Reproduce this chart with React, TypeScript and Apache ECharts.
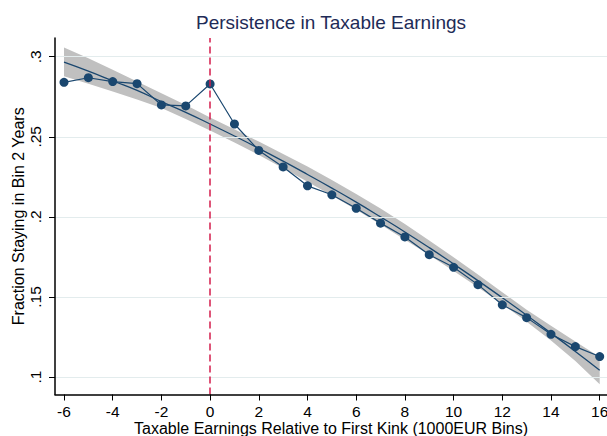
import React, { useEffect, useRef } from "react";
import * as echarts from "echarts";

const xBins = [-6, -5, -4, -3, -2, -1, 0, 1, 2, 3, 4, 5, 6, 7, 8, 9, 10, 11, 12, 13, 14, 15, 16];
const persistence = [
  0.284, 0.2869, 0.2845, 0.2832, 0.2699, 0.2693, 0.283, 0.258, 0.2415, 0.2312, 0.2194, 0.2138,
  0.2054, 0.1961, 0.1875, 0.1764, 0.1685, 0.1577, 0.1451, 0.1371, 0.1267, 0.119, 0.1128,
];
const fitLine = [
  0.2966, 0.291, 0.285, 0.279, 0.272, 0.2653, 0.258, 0.2505, 0.2428, 0.2348, 0.2265, 0.218,
  0.2092, 0.2, 0.1906, 0.1808, 0.1706, 0.1602, 0.1495, 0.1386, 0.1274, 0.116, 0.1043,
];
const ciUpper = [
  0.3058, 0.299, 0.2918, 0.2846, 0.2772, 0.2698, 0.2621, 0.2547, 0.247, 0.2393, 0.2314, 0.223,
  0.2143, 0.2052, 0.1956, 0.1853, 0.1748, 0.164, 0.153, 0.142, 0.132, 0.1222, 0.1125,
];
const ciLower = [
  0.2878, 0.2832, 0.2783, 0.2733, 0.268, 0.2612, 0.254, 0.2465, 0.2387, 0.2304, 0.222, 0.2133,
  0.2045, 0.1952, 0.1858, 0.1762, 0.1662, 0.156, 0.1455, 0.1345, 0.1228, 0.11, 0.0955,
];
const xTicks = [-6, -4, -2, 0, 2, 4, 6, 8, 10, 12, 14, 16];
const yTicks = [0.1, 0.15, 0.2, 0.25, 0.3];
const yTickLabels = [".1", ".15", ".2", ".25", ".3"];
const kinkX = 0;

const X_MIN = -6.37;
const X_MAX = 16.3;
const Y_MIN = 0.0891;
const Y_MAX = 0.3117;

const FONT = '"Liberation Sans", Arial, Helvetica, sans-serif';
const NAVY = "#1a476f";

export default function App() {
  const ref = useRef<HTMLDivElement>(null);
  useEffect(() => {
    if (!ref.current) return;
    const chart = echarts.init(ref.current, null, { renderer: "svg" });
    const pairs = (ys: number[]) => xBins.map((x, i) => [x, ys[i]]);
    const bandData = xBins.map((x, i) => [x, ciLower[i], ciUpper[i]]);
    chart.setOption({
      animation: false,
      backgroundColor: "#ffffff",
      textStyle: { fontFamily: FONT },
      title: {
        text: "Persistence in Taxable Earnings",
        left: 191,
        top: 8,
        textStyle: { color: "#1e2b57", fontSize: 19, fontWeight: "normal", fontFamily: FONT },
      },
      grid: { left: 55, right: 0, top: 38, bottom: 41.5, containLabel: false, outerBoundsMode: "none" },
      xAxis: {
        type: "value",
        min: X_MIN,
        max: X_MAX,
        z: 10,
        name: "Taxable Earnings Relative to First Kink (1000EUR Bins)",
        nameLocation: "middle",
        nameGap: 26,
        nameMoveOverlap: false,
        nameTextStyle: { color: "#000", fontSize: 16, fontFamily: FONT },
        axisLine: { show: true, onZero: false, lineStyle: { color: "#000", width: 1.5 } },
        axisTick: { show: true, length: 6, customValues: xTicks, lineStyle: { color: "#000", width: 1 } },
        axisLabel: {
          customValues: xTicks,
          color: "#000",
          fontSize: 15.5,
          margin: 9,
          fontFamily: FONT,
          showMinLabel: true,
          showMaxLabel: true,
          hideOverlap: false,
        },
        splitLine: { show: false },
      },
      yAxis: {
        type: "value",
        min: Y_MIN,
        max: Y_MAX,
        z: 10,
        name: "Fraction Staying in Bin 2 Years",
        nameLocation: "middle",
        nameRotate: 90,
        nameGap: 29,
        nameMoveOverlap: false,
        nameTextStyle: { color: "#000", fontSize: 16, fontFamily: FONT },
        axisLine: { show: true, onZero: false, lineStyle: { color: "#000", width: 1.5 } },
        axisTick: { show: true, length: 6, customValues: yTicks, lineStyle: { color: "#000", width: 1 } },
        axisLabel: {
          customValues: yTicks,
          rotate: 90,
          color: "#000",
          fontSize: 15.5,
          margin: 12,
          fontFamily: FONT,
          formatter: (v: number) => {
            const i = yTicks.findIndex((t) => Math.abs(t - v) < 1e-6);
            return i >= 0 ? yTickLabels[i] : "";
          },
        },
        splitLine: { show: false },
      },
      series: [
        {
          type: "line",
          name: "grid",
          data: [],
          z: 1,
          silent: true,
          markLine: {
            silent: true,
            symbol: "none",
            label: { show: false },
            lineStyle: { color: "#e3eced", width: 1, type: "solid" },
            data: yTicks.map((t) => ({ yAxis: t })),
          },
        },
        {
          type: "custom",
          name: "ci",
          data: bandData,
          encode: { x: 0, y: [1, 2] },
          z: 2,
          silent: true,
          renderItem: (params: any, api: any) => {
            if (params.dataIndex !== 0) return null;
            const pts: number[][] = [];
            for (let i = 0; i < xBins.length; i++) pts.push(api.coord([xBins[i], ciUpper[i]]));
            for (let i = xBins.length - 1; i >= 0; i--) pts.push(api.coord([xBins[i], ciLower[i]]));
            return {
              type: "polygon",
              shape: { points: pts },
              style: { fill: "#c0c0c0", stroke: "none" },
            };
          },
        },
        {
          type: "line",
          name: "fit",
          data: pairs(fitLine),
          symbol: "none",
          smooth: true,
          lineStyle: { color: NAVY, width: 1.3 },
          z: 3,
        },
        {
          type: "line",
          name: "kink",
          data: [],
          z: 3,
          markLine: {
            silent: true,
            symbol: "none",
            label: { show: false },
            lineStyle: { color: "#d41c4c", width: 1.5, type: [7, 4] },
            data: [{ xAxis: kinkX }],
          },
        },
        {
          type: "line",
          name: "persistence",
          data: pairs(persistence),
          symbol: "circle",
          symbolSize: 9,
          itemStyle: { color: NAVY },
          lineStyle: { color: NAVY, width: 1.2 },
          z: 4,
        },
      ],
    });
    return () => chart.dispose();
  }, []);
  return (
    <div
      ref={ref}
      style={{ position: "fixed", left: 0, top: 0, width: 607, height: 436, background: "#fff" }}
    />
  );
}
